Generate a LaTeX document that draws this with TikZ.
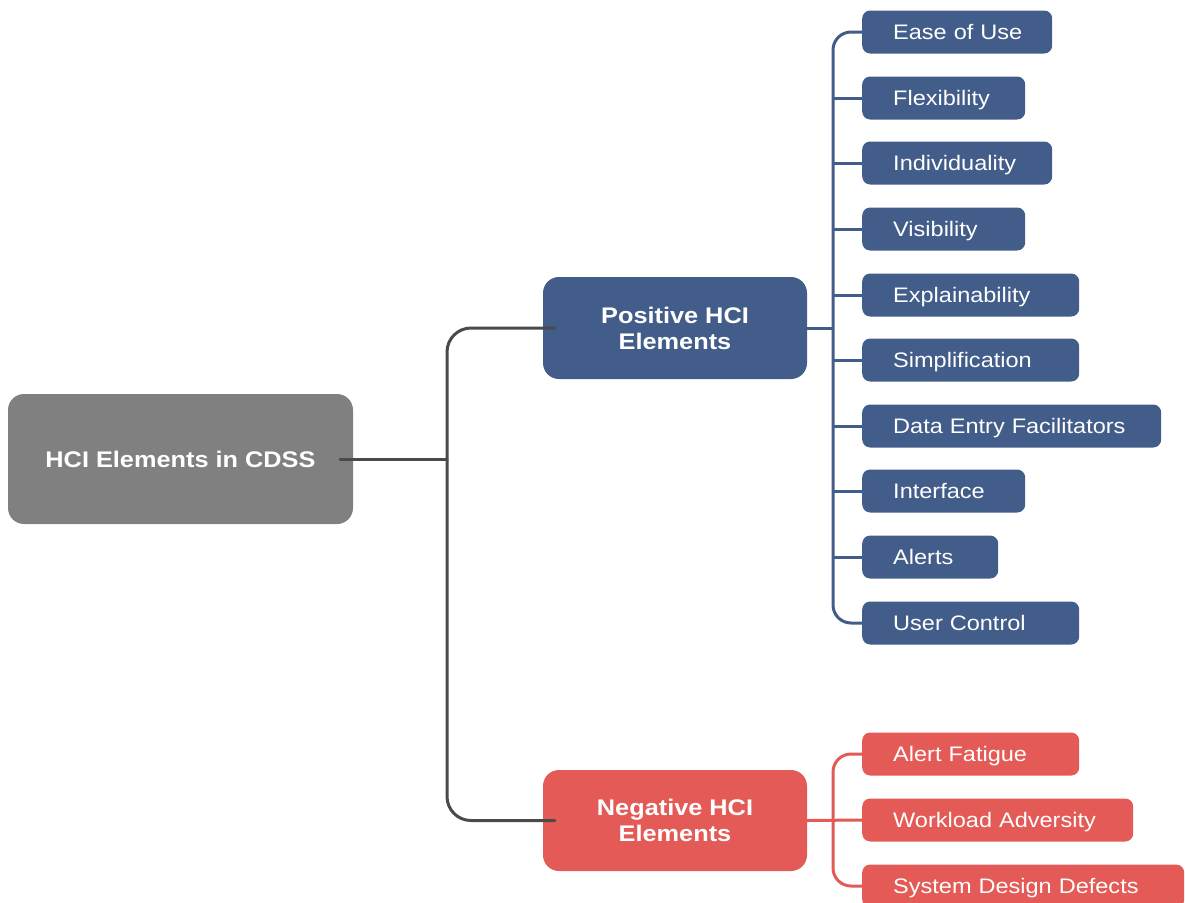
\documentclass[tikz,border=0pt]{standalone}
\usepackage{fontspec}
\setmainfont{Liberation Sans}[FakeStretch=1.12]
\usetikzlibrary{positioning}
\definecolor{posblue}{HTML}{425D89}
\definecolor{negred}{HTML}{E35A56}
\definecolor{rootgray}{HTML}{808080}
\definecolor{trunk}{HTML}{4A4A4A}
\tikzset{
  mainbox/.style={rounded corners=16pt, minimum width=264pt, minimum height=102pt,
    text=white, align=center, font=\fontsize{22.6}{26}\selectfont\bfseries, inner sep=0pt},
  leafbox/.style={rounded corners=8pt, anchor=west, minimum height=43pt, inner xsep=0pt,
    text width=#1, align=left, text=white, text height=15pt, text depth=0pt,
    font=\fontsize{21}{25}\selectfont, execute at begin node={\hspace*{31pt}}},
  posleaf/.style={leafbox=#1, fill=posblue},
  negleaf/.style={leafbox=#1, fill=negred},
  trunkline/.style={draw=trunk, line width=3pt, line cap=round},
  posline/.style={draw=posblue, line width=3pt},
  negline/.style={draw=negred, line width=3pt},
}
\begin{document}
\begin{tikzpicture}[x=1pt, y=-1pt]
  \useasboundingbox (0,0) rectangle (1185,902);
  \clip (0,0) rectangle (1185,902);

  % root and the two branches
  \node[mainbox, fill=rootgray, minimum width=345pt, minimum height=130pt] (root) at (180.5,459) {HCI Elements in CDSS};
  \node[mainbox, fill=posblue] (pos) at (675,328) {Positive HCI\\Elements};
  \node[mainbox, fill=negred, minimum height=101pt] (neg) at (675,820.5) {Negative HCI\\Elements};

  % positive elements
  \node[posleaf=190pt] (p1)  at (862,32)  {Ease of Use};
  \node[posleaf=163pt] (p2)  at (862,98)  {Flexibility};
  \node[posleaf=190pt] (p3)  at (862,163) {Individuality};
  \node[posleaf=163pt] (p4)  at (862,229) {Visibility};
  \node[posleaf=217pt] (p5)  at (862,295) {Explainability};
  \node[posleaf=217pt] (p6)  at (862,360) {Simplification};
  \node[posleaf=299pt] (p7)  at (862,426) {Data Entry Facilitators};
  \node[posleaf=163pt] (p8)  at (862,491) {Interface};
  \node[posleaf=136pt] (p9)  at (862,557) {Alerts};
  \node[posleaf=217pt] (p10) at (862,623) {User Control};

  % negative elements
  \node[negleaf=217pt] (n1) at (862,754) {Alert Fatigue};
  \node[negleaf=271pt] (n2) at (862,820) {Workload Adversity};
  \node[negleaf=322pt] (n3) at (862,886) {System Design Defects};

  % trunk from the root
  \coordinate (j) at (447,459);
  \draw[trunkline] ([xshift=-13pt]root.east) -- (j);
  \draw[trunkline, rounded corners=24pt] ([xshift=12pt]pos.west) -| (j) |- ([xshift=12pt]neg.west);

  % positive branch
  \coordinate (pb) at (833,328);
  \draw[posline] (pos.east) -- (pb);
  \draw[posline, rounded corners=18pt] (p1.west) -| (pb) |- (p10.west);
  \foreach \k in {2,...,9} \draw[posline] (p\k.west) -- (pb |- p\k.west);

  % negative branch
  \coordinate (nb) at (833,820);
  \draw[negline] (neg.east) -- (n2.west);
  \draw[negline, rounded corners=18pt] (n1.west) -| (nb) |- (n3.west);
\end{tikzpicture}
\end{document}
